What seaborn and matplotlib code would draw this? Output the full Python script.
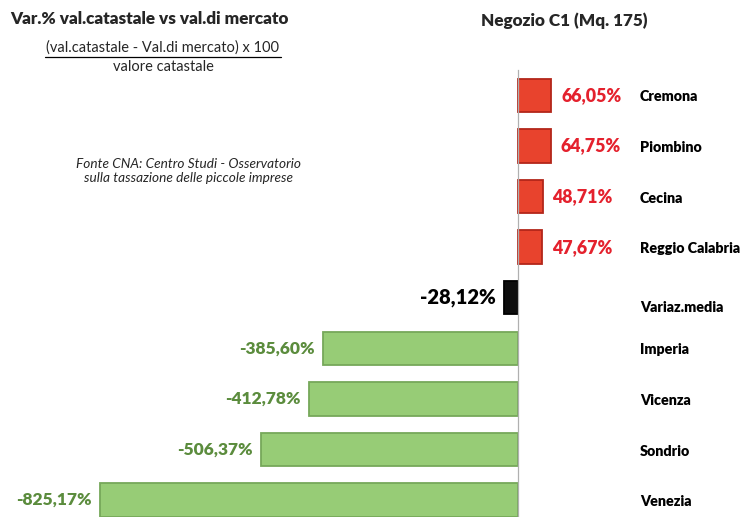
import numpy as np
import pandas as pd
import matplotlib
matplotlib.use("Agg")
import matplotlib.pyplot as plt
import matplotlib.transforms as mtrans
import seaborn as sns

# data
cities = ["Cremona", "Piombino", "Cecina", "Reggio Calabria", "Variaz.media",
          "Imperia", "Vicenza", "Sondrio", "Venezia"]
values = [66.05, 64.75, 48.71, 47.67, -28.12, -385.60, -412.78, -506.37, -825.17]
labels = ["66,05%", "64,75%", "48,71%", "47,67%", "-28,12%",
          "-385,60%", "-412,78%", "-506,37%", "-825,17%"]

RED, GREEN, BLACK = "#e8432d", "#97cc76", "#0d0d0d"
RED_TXT, GREEN_TXT = "#e4212d", "#5b8c3d"


def bar_color(city, v):
    if city == "Variaz.media":
        return BLACK
    return RED if v > 0 else GREEN


df = pd.DataFrame({"city": cities, "value": values})
palette = {c: bar_color(c, v) for c, v in zip(cities, values)}

sns.set_theme(style="white")
plt.rcParams["font.family"] = ["Lato", "DejaVu Sans"]

W, H = 744, 517
fig = plt.figure(figsize=(W / 100, H / 100), dpi=100)
# axes spans full width; rows of ~50.6 px starting at y=70 px
top_px, row_px = 70, 50.6
bottom_px = top_px + row_px * len(cities)
ax = fig.add_axes([0, (H - bottom_px) / H, 1, (bottom_px - top_px) / H])

sns.barplot(data=df, y="city", x="value", hue="city", palette=palette,
            order=cities, legend=False, width=0.66, ax=ax, saturation=1)

zero_px, scale = 518, 418 / 825.17
ax.set_xlim(-zero_px / scale, (W - zero_px) / scale)
ax.set_ylim(len(cities) - 0.5, -0.5)

edges = {RED: "#b3261a", GREEN: "#76a85a", BLACK: "#000000"}
for p, c in zip(ax.patches, cities):
    p.set_edgecolor(edges[palette[c]])
    p.set_linewidth(1.3)

for s in ["top", "right", "bottom"]:
    ax.spines[s].set_visible(False)
ax.spines["left"].set_position(("data", 0))
ax.spines["left"].set_color("#b0b0b0")
ax.spines["left"].set_linewidth(0.9)
ax.set_xticks([])
ax.set_yticks(np.arange(len(cities)))
ax.set_yticklabels([])
ax.tick_params(axis="y", which="major", length=0)
ax.set_yticks(np.arange(len(cities) + 1) - 0.5, minor=True)
ax.tick_params(axis="y", which="minor", length=5, width=0.9,
               color="#9a9a9a", direction="out")
ax.set_xlabel("")
ax.set_ylabel("")
ax.patch.set_alpha(0)

trans = mtrans.blended_transform_factory(ax.transAxes, ax.transData)
for i, (c, v, lab) in enumerate(zip(cities, values, labels)):
    if c == "Variaz.media":
        col, fs = "black", 14.5
    else:
        col, fs = (RED_TXT, 12.8) if v > 0 else (GREEN_TXT, 12.5)
    ax.annotate(lab, xy=(v, i), xytext=(7 if v > 0 else -6, 0),
                textcoords="offset points", ha="left" if v > 0 else "right",
                va="center", fontsize=fs, fontweight="heavy", color=col)
    dy = 0.2 if c == "Variaz.media" else 0.03
    ax.text(640 / W, i + dy, c, transform=trans, ha="left", va="center",
            fontsize=10.3, fontweight="heavy", color="black")

fig.text(10 / W, 1 - 19 / H, "Var.% val.catastale vs val.di mercato",
         ha="left", va="center", fontsize=12.3, fontweight="heavy")
fig.text(163 / W, 1 - 48 / H, "(val.catastale - Val.di mercato) x 100",
         ha="center", va="center", fontsize=10.5)
fig.add_artist(plt.Line2D([45 / W, 281 / W], [1 - 57 / H, 1 - 57 / H],
                          color="black", lw=0.9))
fig.text(163 / W, 1 - 67 / H, "valore catastale",
         ha="center", va="center", fontsize=10.5)
fig.text(564 / W, 1 - 21 / H, "Negozio C1 (Mq. 175)",
         ha="center", va="center", fontsize=12.3, fontweight="heavy")
fig.text(189 / W, 1 - 171 / H,
         "Fonte CNA: Centro Studi - Osservatorio\nsulla tassazione delle piccole imprese",
         ha="center", va="center", fontsize=9.8, style="italic", linespacing=1.25)

fig.savefig("out.png", dpi=100, facecolor="white")
